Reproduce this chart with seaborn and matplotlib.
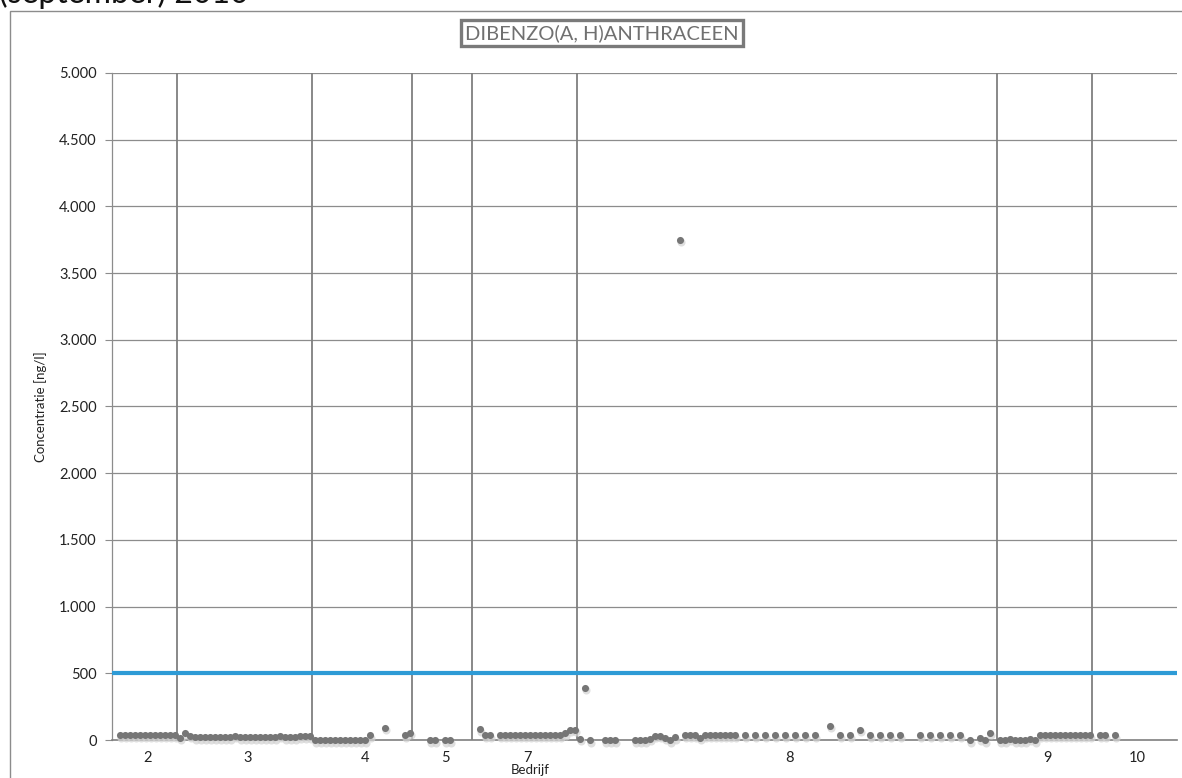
import numpy as np
import pandas as pd
import matplotlib
matplotlib.use("Agg")
import matplotlib.pyplot as plt
import matplotlib.transforms as mtransforms
from matplotlib.patches import Rectangle
import seaborn as sns

# ---------------- data ----------------
groups = ["2", "3", "4", "5", "7", "8", "9", "10"]
N = None
g2 = [N, 35, 35, 35, 35, 35, 35, 35, 35, 35, 35, 35, 35]
g3 = [15, 55, 30, 20, 20, 20, 20, 20, 20, 20, 20, 30, 20, 20, 20, 20, 20, 20, 20, 20,
      30, 20, 20, 20, 28, 28, 28]
g4 = [0, 0, 0, 0, 0, 0, 0, 0, 0, 0, 0, 35, N, N, 90, N, N, N, 35, 55]
g5 = [N, N, N, 0, 0, N, 0, 0, N, N, N, N]
g7 = [N, 80, 37, 37, N, 37, 37, 37, 37, 37, 37, 37, 37, 37, 37, 37, 37, 37, 52, 75, 75]
g8 = [10, 390, 0, N, N, 0, 0, 0, N, N, N, 0, 0, 0, 10, 30, 30, 15, 0, 20,
      3750, 35, 35, 35, 15, 35, 35, 35, 35, 35, 35, 35, N, 35, N, 35, N, 35, N, 35,
      N, 35, N, 35, N, 35, N, 35, N, N, 107, N, 35, N, 35, N, 75, N, 35, N,
      35, N, 35, N, 35, N, N, N, 35, N, 35, N, 35, N, 35, N, 35, N, 0, N,
      12, 0, 55, N]
g9 = [0, 0, 10, 0, 0, 0, 10, 0, 35, 35, 35, 35, 35, 35, 35, 35, 35, 35, 35]
g10 = [N, 35, 35, N, 35, N, N, N, N, N, N, N, N, N, N, N, N]
group_values = [g2, g3, g4, g5, g7, g8, g9, g10]
limit_value = 500
yticks = [0, 500, 1000, 1500, 2000, 2500, 3000, 3500, 4000, 4500, 5000]

# ---------------- build frame ----------------
vals = []
for g in group_values:
    vals.extend(g)
df = pd.DataFrame({"x": np.arange(len(vals)),
                   "y": pd.to_numeric(pd.Series(vals), errors="coerce")})
df = df.dropna()

sizes = [len(g) for g in group_values]
starts = np.concatenate([[0], np.cumsum(sizes)[:-1]])
ends = np.cumsum(sizes)
centers = [(s + e - 1) / 2 + 0.6 for s, e in zip(starts, ends)]
bounds = [e - 0.5 for e in ends[:-1]]
total = int(ends[-1])

# ---------------- figure ----------------
sns.set_theme(style="white")
plt.rcParams["font.family"] = ["Lato", "DejaVu Sans"]

W, H = 1182, 778
fig = plt.figure(figsize=(W / 100, H / 100), dpi=100)
ax = fig.add_axes([112 / W, 1 - 740 / H, (1177 - 112) / W, (740 - 73) / H])

grid_c = "#8c8c8c"
for yv in yticks[1:]:
    ax.axhline(yv, color=grid_c, lw=0.9, zorder=1)
for b in bounds:
    ax.axvline(b, color="#7f7f7f", lw=1.3, zorder=2)
ax.axhline(limit_value, color="#2e9bd6", lw=3, zorder=3)

# shadow
shadow = mtransforms.offset_copy(ax.transData, fig=fig, x=1.2, y=-2.5, units="dots")
ax.scatter(df["x"], df["y"], s=34, color="#d2d2d2", alpha=0.7, linewidths=0,
           transform=shadow, zorder=3.5, clip_on=False)
sns.scatterplot(data=df, x="x", y="y", ax=ax, color="#767676", s=26,
                linewidth=0, zorder=4, clip_on=False, legend=False)

ax.set_xlim(-0.5, total - 0.5)
ax.set_ylim(0, 5000)
ax.set_yticks(yticks)
ax.set_yticklabels([f"{v:,.0f}".replace(",", ".") for v in yticks],
                   fontsize=10.5, color="#222222")
ax.set_xticks(centers)
ax.set_xticklabels(groups, fontsize=10.5, color="#222222")
ax.tick_params(axis="y", length=5, width=0.8, color=grid_c, pad=6, left=True)
ax.tick_params(axis="x", length=0, pad=8)

for side in ["top", "right"]:
    ax.spines[side].set_visible(False)
ax.spines["left"].set_color(grid_c)
ax.spines["left"].set_linewidth(0.9)
ax.spines["bottom"].set_color("#7f7f7f")
ax.spines["bottom"].set_linewidth(1.2)

ax.set_xlabel("")
ax.set_ylabel("Concentratie [ng/l]", fontsize=9.5, color="#222222", labelpad=9)
fig.text(530 / W, 1 - 770 / H, "Bedrijf", ha="center", va="center",
         fontsize=9.5, color="#222222")

# title box
fig.text(602 / W, 1 - 33 / H, "DIBENZO(A, H)ANTHRACEEN", ha="center", va="center",
         fontsize=14.5, color="#707070",
         bbox=dict(boxstyle="square,pad=0.22", facecolor="white",
                   edgecolor="#7a7a7a", linewidth=2.4))

# outer chart border (partially visible)
fig.add_artist(Rectangle((10 / W, -0.05), 1.1, 1 - 11 / H + 0.05,
                         transform=fig.transFigure, fill=False,
                         edgecolor="#8c8c8c", linewidth=1.0, clip_on=False))

# cut-off heading at top-left
fig.text(-0.001, 1 - 3 / H, "(september) 2010", ha="left", va="baseline",
         fontsize=23, color="#111111")

fig.savefig("out.png", dpi=100)
